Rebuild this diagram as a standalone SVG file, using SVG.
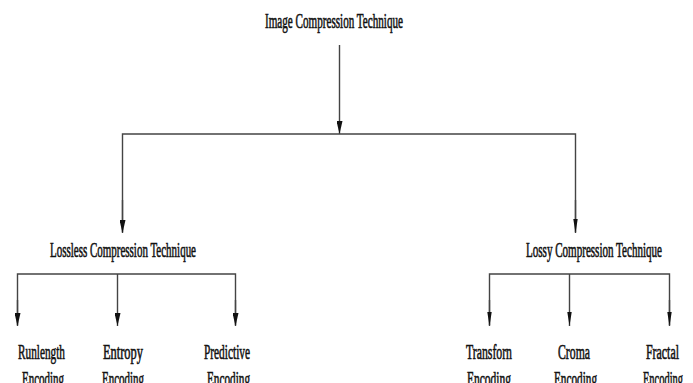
<svg xmlns="http://www.w3.org/2000/svg" width="693" height="383" viewBox="0 0 693 383">
<style>
text{font-family:"Liberation Serif","Times New Roman",serif;font-size:20px;fill:#111;stroke:#111;stroke-width:0.6;text-anchor:middle}
.c{stroke:#444;stroke-width:1.4;fill:none}
</style>
<defs>
<marker id="a" markerUnits="userSpaceOnUse" markerWidth="13" markerHeight="6" refX="13" refY="3" orient="auto" viewBox="0 0 13 6">
<path d="M0,0 L13,3 L0,6 Z" fill="#111"/>
</marker>
<marker id="b" markerUnits="userSpaceOnUse" markerWidth="14" markerHeight="4.4" refX="14" refY="2.2" orient="auto" viewBox="0 0 14 4.4">
<path d="M0,0 L14,2.2 L0,4.4 Z" fill="#111"/>
</marker>
</defs>
<g id="connectors">
<line class="c" x1="339.5" y1="45" x2="339.5" y2="134" marker-end="url(#a)"/>
<polyline class="c" points="122.5,232 122.5,134 575.5,134 575.5,232"/>
<line class="c" x1="122.5" y1="200" x2="122.5" y2="233" marker-end="url(#a)"/>
<line class="c" x1="575.5" y1="200" x2="575.5" y2="233" marker-end="url(#b)"/>
<polyline class="c" points="17.5,325 17.5,274 235.5,274 235.5,325"/>
<line class="c" x1="17.5" y1="300" x2="17.5" y2="326" marker-end="url(#a)"/>
<line class="c" x1="117.5" y1="274" x2="117.5" y2="326" marker-end="url(#a)"/>
<line class="c" x1="235.5" y1="300" x2="235.5" y2="326" marker-end="url(#a)"/>
<polyline class="c" points="489.5,325 489.5,274 669.5,274 669.5,325"/>
<line class="c" x1="489.5" y1="300" x2="489.5" y2="326" marker-end="url(#b)"/>
<line class="c" x1="569.5" y1="274" x2="569.5" y2="326" marker-end="url(#b)"/>
<line class="c" x1="669.5" y1="300" x2="669.5" y2="326" marker-end="url(#b)"/>
</g>
<g id="root"><text x="334" y="28" textLength="138" lengthAdjust="spacingAndGlyphs">Image Compression Technique</text></g>
<g id="lossless"><text x="123" y="257" textLength="146" lengthAdjust="spacingAndGlyphs">Lossless Compression Technique</text></g>
<g id="lossy"><text x="594" y="257" textLength="136" lengthAdjust="spacingAndGlyphs">Lossy Compression Technique</text></g>
<g id="runlength"><text x="41.5" y="359" textLength="47" lengthAdjust="spacingAndGlyphs">Runlength</text><text x="43" y="386" textLength="42" lengthAdjust="spacingAndGlyphs">Encoding</text></g>
<g id="entropy"><text x="123" y="359" textLength="40" lengthAdjust="spacingAndGlyphs">Entropy</text><text x="123" y="386" textLength="42" lengthAdjust="spacingAndGlyphs">Encoding</text></g>
<g id="predictive"><text x="227" y="359" textLength="46" lengthAdjust="spacingAndGlyphs">Predictive</text><text x="228.5" y="386" textLength="43" lengthAdjust="spacingAndGlyphs">Encoding</text></g>
<g id="transform"><text x="489" y="359" textLength="46" lengthAdjust="spacingAndGlyphs">Transforn</text><text x="489" y="386" textLength="44" lengthAdjust="spacingAndGlyphs">Encoding</text></g>
<g id="croma"><text x="574" y="359" textLength="32" lengthAdjust="spacingAndGlyphs">Croma</text><text x="575.5" y="386" textLength="43" lengthAdjust="spacingAndGlyphs">Encoding</text></g>
<g id="fractal"><text x="662.5" y="359" textLength="33" lengthAdjust="spacingAndGlyphs">Fractal</text><text x="663" y="386" textLength="40" lengthAdjust="spacingAndGlyphs">Encoding</text></g>
</svg>
